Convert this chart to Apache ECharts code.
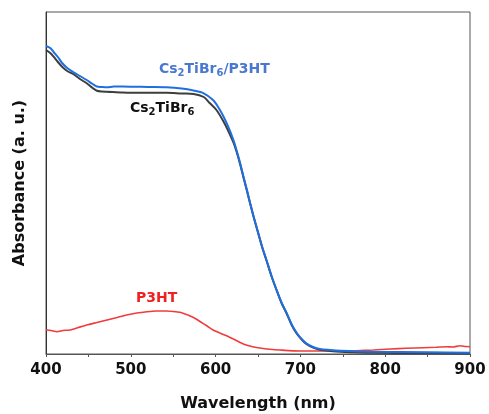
<!DOCTYPE html>
<html>
<head>
<meta charset="utf-8">
<script src="https://cdn.jsdelivr.net/npm/echarts@6/dist/echarts.min.js"></script>
<style>html,body{margin:0;padding:0;background:#fff}#c{width:489px;height:414px}</style>
</head>
<body>
<div id="c"></div>
<script>
var xTicks = [400, 500, 600, 700, 800, 900];

var blueX = [400,405,409,414,419,425,432,440,448,455,460,466,472,480,490,503,520,542,560,574,586,597,603,609,615,621,625,629,633,637,641,645,650,655,660,666,672,678,684,690,696,702,707,715,723,735,747,785,850,900];
var blueY = [308,306,302,297,291,286,282,278,274,270,267.5,267,266.7,267.5,267.5,267.3,267,266.7,265.5,263.5,260.7,254,247,238,227,214,203,190.7,177,164,150,137,122,107,94,78,64,51,40.7,29,20.7,14.5,10.7,7,5,4,3.3,2.3,1.8,1.3];

var blackX = [400,405,409,414,419,425,432,440,448,455,460,466,472,490,503,520,542,560,574,586,593,601,609,615,621,625,629,633,637,641,645,650,655,660,666,672,678,684,690,696,702,707,715,723,735,747,785,850,900];
var blackY = [304,301,297.3,292,287.3,283,280,275,270.7,266,263.3,262.5,262.3,261.5,261.3,261.3,261.3,260.5,260,257,251,244,233,223,211.5,201.5,189.5,176,163,149.5,136.5,121.5,106.5,93.5,77.5,63.5,50.5,40,28.5,20,14,10,6.3,4.2,3,2.2,1.2,1,0.8];

var redX = [400,406,413,420,428,438,448,460,472,484,495,507,519,530,542,550,558,564,570,576,582,590,597,605,613,621,629,637,645,652,664,676,700,727,750,766,786,806,825,845,860,872,880,888,895,900];
var redY = [24,23.5,22.3,23.5,24,26.5,29,31.5,34,36.5,39,41,42.3,43,43,42.5,41.7,40,38,35.5,32.3,28,24,21,18.3,15,11.5,8.7,7,6,4.8,4,3,3,3.2,3.3,4,5,5.7,6.3,6.7,7.3,7,8.3,7.5,7.3];

function pairs(xs, ys) { return xs.map(function (x, i) { return [x, ys[i]]; }); }

var F = '"DejaVu Sans", "Liberation Sans", Arial, sans-serif';
var chart = echarts.init(document.getElementById('c'));
chart.setOption({
  animation: false,
  grid: { left: 46, right: 19, top: 12, bottom: 60, show: true, borderColor: '#555', borderWidth: 1,
    containLabel: false, outerBoundsMode: 'none' },
  xAxis: {
    type: 'value', min: 400, max: 900, interval: 100,
    name: 'Wavelength (nm)', nameLocation: 'middle', nameGap: 42,
    nameTextStyle: { fontFamily: F, fontWeight: 'bold', fontSize: 16, color: '#111' },
    axisLine: { show: true, lineStyle: { color: '#555', width: 1 } },
    axisTick: { show: true, length: 3, lineStyle: { color: '#555' } },
    minorTick: { show: true, splitNumber: 2, length: 3, lineStyle: { color: '#555' } },
    splitLine: { show: false },
    axisLabel: { fontFamily: F, fontWeight: 'bold', fontSize: 15, color: '#111', margin: 9,
      formatter: function (v) { return xTicks.indexOf(v) >= 0 ? String(v) : ''; } }
  },
  yAxis: {
    type: 'value', min: 0, max: 342,
    name: 'Absorbance (a. u.)', nameLocation: 'middle', nameGap: 18,
    nameTextStyle: { fontFamily: F, fontWeight: 'bold', fontSize: 16, color: '#111' },
    axisLine: { show: true, lineStyle: { color: '#333', width: 1 } },
    axisTick: { show: false }, axisLabel: { show: false }, splitLine: { show: false }
  },
  series: [
    { name: 'P3HT', type: 'line', showSymbol: false, smooth: 0.2, data: pairs(redX, redY),
      lineStyle: { color: '#f03c3c', width: 1.6 }, z: 2 },
    { name: 'Cs2TiBr6', type: 'line', showSymbol: false, smooth: 0.3, data: pairs(blackX, blackY),
      lineStyle: { color: '#3d3d3d', width: 2 }, z: 3 },
    { name: 'Cs2TiBr6/P3HT', type: 'line', showSymbol: false, smooth: 0.3, data: pairs(blueX, blueY),
      lineStyle: { color: '#1f6fe0', width: 2 }, z: 4 }
  ],
  graphic: [
    { type: 'text', left: 159, top: 62, style: {
      text: '{a|Cs}{s|2}{a|TiBr}{s|6}{a|/P3HT}',
      rich: { a: { fontFamily: F, fontWeight: 'bold', fontSize: 14, fill: '#4a78d0' },
              s: { fontFamily: F, fontWeight: 'bold', fontSize: 10, fill: '#4a78d0', padding: [8, 0, 0, 0] } } } },
    { type: 'text', left: 130, top: 101, style: {
      text: '{a|Cs}{s|2}{a|TiBr}{s|6}',
      rich: { a: { fontFamily: F, fontWeight: 'bold', fontSize: 14, fill: '#111' },
              s: { fontFamily: F, fontWeight: 'bold', fontSize: 10, fill: '#111', padding: [8, 0, 0, 0] } } } },
    { type: 'text', left: 136, top: 291, style: {
      text: 'P3HT', fontFamily: F, fontWeight: 'bold', fontSize: 14, fill: '#f02020' } }
  ]
});
</script>
</body>
</html>
